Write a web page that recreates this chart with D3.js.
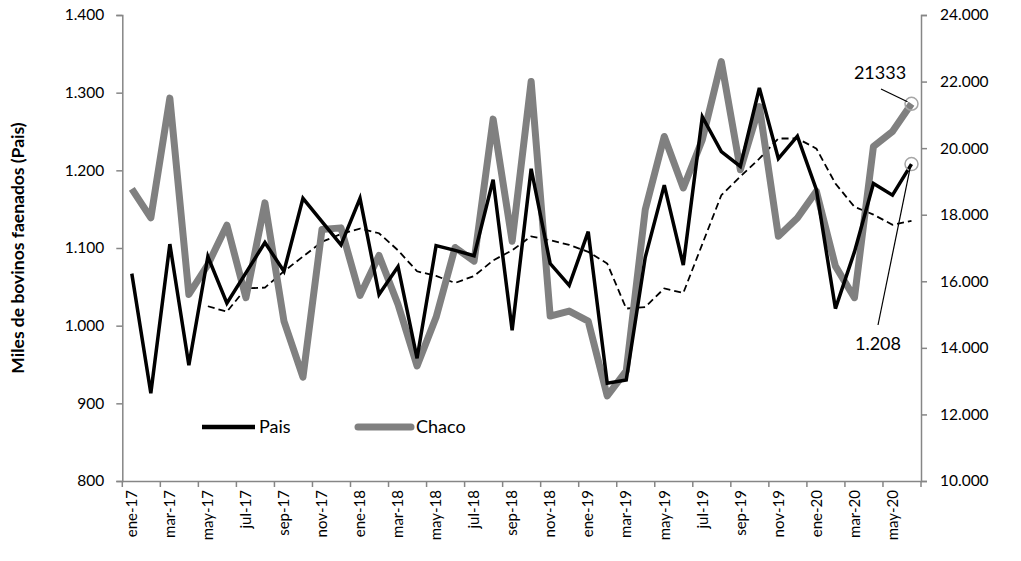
<!DOCTYPE html>
<html>
<head>
<meta charset="utf-8">
<script src="https://cdn.jsdelivr.net/npm/d3@7"></script>
<style>
  body { margin: 0; background: #fff; }
  text { font-family: Lato, "Open Sans", sans-serif; fill: #000; }
</style>
</head>
<body>
<script>

/******** Data *********/

var months = ["ene-17","feb-17","mar-17","abr-17","may-17","jun-17","jul-17","ago-17","sep-17","oct-17","nov-17","dic-17",
  "ene-18","feb-18","mar-18","abr-18","may-18","jun-18","jul-18","ago-18","sep-18","oct-18","nov-18","dic-18",
  "ene-19","feb-19","mar-19","abr-19","may-19","jun-19","jul-19","ago-19","sep-19","oct-19","nov-19","dic-19",
  "ene-20","feb-20","mar-20","abr-20","may-20","jun-20"]

var pais = [1067, 913, 1105, 949, 1089, 1029, 1068, 1107, 1070, 1164, 1134, 1104,
  1164, 1040, 1076, 958, 1103, 1097, 1090, 1188, 994, 1202, 1080, 1052,
  1121, 926, 930, 1088, 1181, 1078, 1269, 1224, 1205, 1306, 1215, 1244,
  1175, 1022, 1095, 1183, 1168, 1208]

var chaco = [18775, 17905, 21503, 15606, 16500, 17684, 15506, 18355, 14806, 13118, 17555, 17605,
  15576, 16775, 15300, 13458, 14917, 17015, 16605, 20872, 17205, 22002, 14955, 15105,
  14806, 12557, 13307, 18154, 20350, 18804, 20253, 22600, 19353, 21251, 17354, 17900,
  18703, 16455, 15507, 20052, 20502, 21333]

// media movil de Pais (linea punteada), sin valor en los primeros 4 meses
var paisMedia = [null, null, null, null, 1025, 1018, 1048, 1049, 1070, 1089, 1108, 1118,
  1125, 1119, 1097, 1070, 1064, 1055, 1064, 1084, 1097, 1115, 1110, 1104,
  1095, 1080, 1022, 1024, 1048, 1042, 1105, 1168, 1192, 1215, 1241, 1241,
  1228, 1183, 1153, 1143, 1130, 1135]

var leftTicks = [800, 900, 1000, 1100, 1200, 1300, 1400]
var rightTicks = [10000, 12000, 14000, 16000, 18000, 20000, 22000, 24000]

/******** Setup *********/

var W = 1021, H = 561
var mLeft = 122.3, mRight = 921, mTop = 15, mBottom = 481

var loc = d3.formatLocale({decimal: ",", thousands: ".", grouping: [3], currency: ["", ""]})
var fmt = loc.format(",.0f")

var svg = d3.select("body")
  .append("svg")
    .attr("width", W)
    .attr("height", H)

var x = d3.scaleBand()
  .domain(months)
  .range([mLeft, mRight])
  .padding(0)

var yL = d3.scaleLinear().domain([800, 1400]).range([mBottom, mTop])
var yR = d3.scaleLinear().domain([10000, 24000]).range([mBottom, mTop])

function cx(i){ return x(months[i]) + x.bandwidth() / 2 }

/******** Axes *********/

var axisColor = "#868686"

var leftAxis = svg.append("g")
  .attr("transform", "translate(" + mLeft + ",0)")
  .call(d3.axisLeft(yL).tickValues(leftTicks).tickSize(6).tickPadding(12).tickFormat(fmt))

var rightAxis = svg.append("g")
  .attr("transform", "translate(" + mRight + ",0)")
  .call(d3.axisRight(yR).tickValues(rightTicks).tickSize(6).tickPadding(13).tickFormat(fmt))

var labelMonths = months.filter(function(d, i){ return i % 2 == 0 })

var bottomAxis = svg.append("g")
  .attr("transform", "translate(0," + mBottom + ")")
  .call(d3.axisBottom(x).tickValues(labelMonths).tickSize(0).tickSizeOuter(0).tickPadding(0))

bottomAxis.selectAll("text")
  .attr("transform", "rotate(-90)")
  .attr("text-anchor", "end")
  .attr("x", -9)
  .attr("y", 0)
  .attr("dy", "0.35em")
  .attr("font-size", "15px")

// marcas cada dos meses, en los bordes
var tickPos = labelMonths.map(function(m){ return x(m) }).concat([mRight])
bottomAxis.selectAll("line.tk")
  .data(tickPos)
  .enter()
  .append("line")
    .attr("class", "tk")
    .attr("x1", function(d){ return d })
    .attr("x2", function(d){ return d })
    .attr("y1", 0)
    .attr("y2", 6)

svg.selectAll(".domain").attr("stroke", axisColor).attr("stroke-width", 1.5)
svg.selectAll(".tick line, line.tk").attr("stroke", axisColor).attr("stroke-width", 1.5)
leftAxis.selectAll("text").attr("font-size", "15.5px").attr("font-family", "Lato")
rightAxis.selectAll("text").attr("font-size", "15.5px").attr("font-family", "Lato")
bottomAxis.selectAll("text").attr("font-family", "Lato")

svg.append("text")
  .attr("transform", "translate(24," + ((mTop + mBottom) / 2) + ") rotate(-90)")
  .attr("text-anchor", "middle")
  .attr("font-size", "17.5px")
  .attr("font-weight", "bold")
  .text("Miles de bovinos faenados (Pais)")

/******** Lines *********/

var lineL = d3.line()
  .defined(function(d){ return d != null })
  .x(function(d, i){ return cx(i) })
  .y(function(d){ return yL(d) })

var lineR = d3.line()
  .x(function(d, i){ return cx(i) })
  .y(function(d){ return yR(d) })

svg.append("path")
  .attr("d", lineL(paisMedia))
  .attr("fill", "none")
  .attr("stroke", "#000")
  .attr("stroke-width", 1.8)
  .attr("stroke-dasharray", "7,4")

svg.append("path")
  .attr("d", lineR(chaco))
  .attr("fill", "none")
  .attr("stroke", "#808080")
  .attr("stroke-width", 7)
  .attr("stroke-linejoin", "round")

svg.append("path")
  .attr("d", lineL(pais))
  .attr("fill", "none")
  .attr("stroke", "#000")
  .attr("stroke-width", 3.5)

/******** Legend *********/

svg.append("line")
  .attr("x1", 202).attr("x2", 255).attr("y1", 427).attr("y2", 427)
  .attr("stroke", "#000").attr("stroke-width", 4.5)
svg.append("text")
  .attr("x", 259).attr("y", 433)
  .attr("font-size", "18px")
  .text("Pais")

svg.append("line")
  .attr("x1", 358).attr("x2", 411).attr("y1", 427).attr("y2", 427)
  .attr("stroke", "#808080").attr("stroke-width", 7).attr("stroke-linecap", "round")
svg.append("text")
  .attr("x", 416).attr("y", 433)
  .attr("font-size", "18px")
  .text("Chaco")

/******** Labels for last values *********/

var last = months.length - 1
var lx = cx(last)

svg.append("circle")
  .attr("cx", lx).attr("cy", yR(chaco[last])).attr("r", 6.5)
  .attr("fill", "none").attr("stroke", "#a6a6a6").attr("stroke-width", 1.5)
svg.append("circle")
  .attr("cx", lx).attr("cy", yL(pais[last])).attr("r", 6.5)
  .attr("fill", "none").attr("stroke", "#a6a6a6").attr("stroke-width", 1.5)

svg.append("line")
  .attr("x1", 881).attr("y1", 89)
  .attr("x2", lx - 4).attr("y2", yR(chaco[last]) - 2)
  .attr("stroke", "#000").attr("stroke-width", 1.2)
svg.append("text")
  .attr("x", 880).attr("y", 79)
  .attr("text-anchor", "middle")
  .attr("font-size", "18px")
  .text(chaco[last])

svg.append("line")
  .attr("x1", 878).attr("y1", 325)
  .attr("x2", lx - 1).attr("y2", yL(pais[last]) + 2)
  .attr("stroke", "#000").attr("stroke-width", 1.2)
svg.append("text")
  .attr("x", 878).attr("y", 350)
  .attr("text-anchor", "middle")
  .attr("font-size", "18px")
  .text(d3.format(".3f")(pais[last] / 1000))

</script>
</body>
</html>
